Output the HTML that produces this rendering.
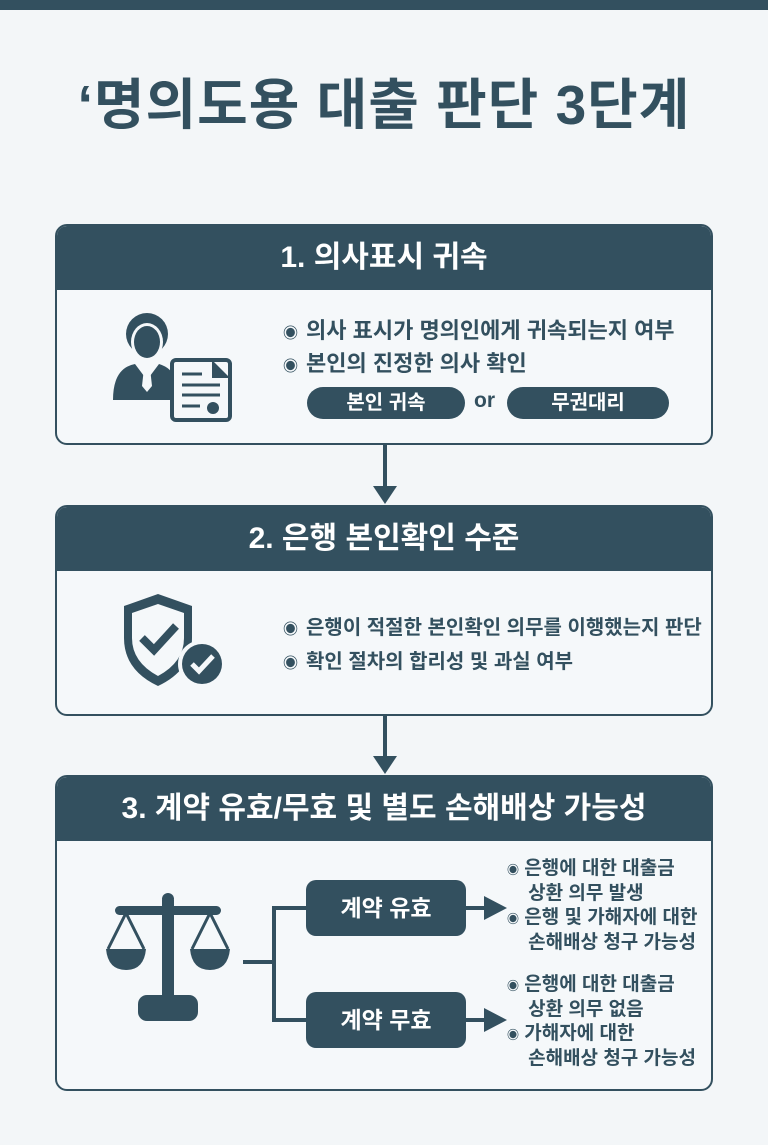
<!DOCTYPE html>
<html><head><meta charset="utf-8"><style>
*{margin:0;padding:0;box-sizing:border-box}
body{width:768px;height:1145px;background:#f3f6f8;position:relative;overflow:hidden;font-family:"Liberation Sans","Noto Sans CJK KR",sans-serif;color:#33505f}
.bar{position:absolute;left:0;top:0;width:768px;height:10px;background:#33505f}
.title{position:absolute;left:0;top:60px;width:768px;text-align:center;font-size:55px;font-weight:bold;letter-spacing:1px}
.card{position:absolute;left:55px;width:658px;border:2px solid #33505f;border-radius:12px;background:#f5f8fa;overflow:hidden}
.hd{height:64px;background:#33505f;color:#fff;font-size:30px;font-weight:bold;text-align:center;line-height:64px}
.t{position:absolute;font-size:21px;font-weight:bold;white-space:nowrap}
.t b{font-size:15px;margin-right:8px}
.pill{position:absolute;background:#33505f;color:#fff;border-radius:16px;font-size:20px;font-weight:bold;text-align:center}
.s{position:absolute;font-size:19px;font-weight:bold;line-height:24px;white-space:nowrap}
</style></head><body>
<div class="bar"></div>
<div class="title">‘명의도용 대출 판단 3단계</div>

<div class="card" style="top:224px;height:221px">
<div class="hd">1. 의사표시 귀속</div>
</div>
<svg style="position:absolute;left:110px;top:308px" width="130" height="115">
<circle cx="37" cy="26" r="21" fill="#33505f"/><ellipse cx="37" cy="34" rx="16" ry="19" fill="#f5f8fa"/><ellipse cx="37" cy="34" rx="13" ry="16" fill="#33505f"/>
<path d="M3 92 Q3 60 25 56 L37 72 L49 56 Q62 60 64 70 L64 92 Z" fill="#33505f"/>
<path d="M34 60 L40 60 L42 78 L37 84 L32 78 Z" fill="#f5f8fa"/>
<rect x="62" y="52" width="58" height="60" rx="4" fill="#f5f8fa" stroke="#33505f" stroke-width="4"/>
<path d="M102 52 L120 70 L102 70 Z" fill="#33505f"/>
<g stroke="#33505f" stroke-width="3"><line x1="72" y1="66" x2="92" y2="66"/><line x1="72" y1="77" x2="110" y2="77"/><line x1="72" y1="87" x2="110" y2="87"/><line x1="72" y1="98" x2="90" y2="98"/></g>
<circle cx="103" cy="100" r="6" fill="#33505f"/>
</svg>
<div class="t" style="left:283px;top:313px;font-size:22px"><b>◉</b>의사 표시가 명의인에게 귀속되는지 여부</div>
<div class="t" style="left:283px;top:346px;font-size:22px"><b>◉</b>본인의 진정한 의사 확인</div>
<div class="pill" style="left:307px;top:387px;width:158px;height:32px;line-height:32px">본인 귀속</div>
<div class="s" style="left:474px;top:389px;font-size:21px">or</div>
<div class="pill" style="left:507px;top:387px;width:162px;height:32px;line-height:32px">무권대리</div>

<svg style="position:absolute;left:370px;top:444px" width="30" height="62"><line x1="15" y1="0" x2="15" y2="44" stroke="#33505f" stroke-width="4"/><path d="M3 42 L27 42 L15 60 Z" fill="#33505f"/></svg>

<div class="card" style="top:505px;height:211px">
<div class="hd">2. 은행 본인확인 수준</div>
</div>
<svg style="position:absolute;left:118px;top:590px" width="110" height="105">
<path d="M40 4 L74 16 L74 48 Q74 80 40 96 Q6 80 6 48 L6 16 Z" fill="#33505f"/>
<path d="M40 14 L66 23 L66 48 Q66 72 40 86 Q14 72 14 48 L14 23 Z" fill="#f5f8fa"/>
<path d="M24 48 L36 60 L58 36" fill="none" stroke="#33505f" stroke-width="8"/>
<circle cx="84" cy="74" r="24" fill="#f5f8fa"/><circle cx="84" cy="74" r="20" fill="#33505f"/>
<path d="M74 74 L81 81 L95 66" fill="none" stroke="#f5f8fa" stroke-width="5"/>
</svg>
<div class="t" style="left:283px;top:611px;font-size:20px"><b>◉</b>은행이 적절한 본인확인 의무를 이행했는지 판단</div>
<div class="t" style="left:283px;top:645px;font-size:20px"><b>◉</b>확인 절차의 합리성 및 과실 여부</div>

<svg style="position:absolute;left:370px;top:714px" width="30" height="62"><line x1="15" y1="0" x2="15" y2="44" stroke="#33505f" stroke-width="4"/><path d="M3 42 L27 42 L15 60 Z" fill="#33505f"/></svg>

<div class="card" style="top:775px;height:316px">
<div class="hd" style="font-size:30px">3. 계약 유효/무효 및 별도 손해배상 가능성</div>
</div>
<svg style="position:absolute;left:0;top:0" width="768" height="1145">
<g fill="#33505f">
<circle cx="168" cy="899" r="6"/><rect x="162" y="900" width="12" height="105"/>
<rect x="115" y="906" width="106" height="9" rx="4.5"/>
<path d="M106 949 L146 949 Q144 970 126 970 Q108 970 106 949Z"/>
<path d="M190 949 L230 949 Q228 970 210 970 Q192 970 190 949Z"/>
<rect x="138" y="995" width="60" height="26" rx="9"/>
</g>
<g stroke="#33505f" stroke-width="3" fill="none">
<path d="M126 913 L108 949 M126 913 L144 949 M210 913 L192 949 M210 913 L228 949"/>
</g>
<g stroke="#33505f" stroke-width="4" fill="none">
<path d="M243 962 L274 962 M274 908 L274 1020 M272 908 L306 908 M272 1020 L306 1020"/>
<path d="M466 908 L490 908 M466 1020 L490 1020"/>
</g>
<path d="M484 896 L507 908 L484 920Z" fill="#33505f"/>
<path d="M484 1008 L507 1020 L484 1032Z" fill="#33505f"/>
</svg>
<div class="pill" style="left:306px;top:880px;width:160px;height:56px;line-height:56px;font-size:23px;border-radius:10px">계약 유효</div>
<div class="pill" style="left:306px;top:992px;width:160px;height:56px;line-height:56px;font-size:23px;border-radius:10px">계약 무효</div>
<div class="s" style="left:507px;top:857px"><b style="font-size:12px">◉</b> 은행에 대한 대출금<br>&nbsp;&nbsp;&nbsp;&nbsp;상환 의무 발생<br><b style="font-size:12px">◉</b> 은행 및 가해자에 대한<br>&nbsp;&nbsp;&nbsp;&nbsp;손해배상 청구 가능성</div>
<div class="s" style="left:507px;top:973px"><b style="font-size:12px">◉</b> 은행에 대한 대출금<br>&nbsp;&nbsp;&nbsp;&nbsp;상환 의무 없음<br><b style="font-size:12px">◉</b> 가해자에 대한<br>&nbsp;&nbsp;&nbsp;&nbsp;손해배상 청구 가능성</div>
</body></html>
